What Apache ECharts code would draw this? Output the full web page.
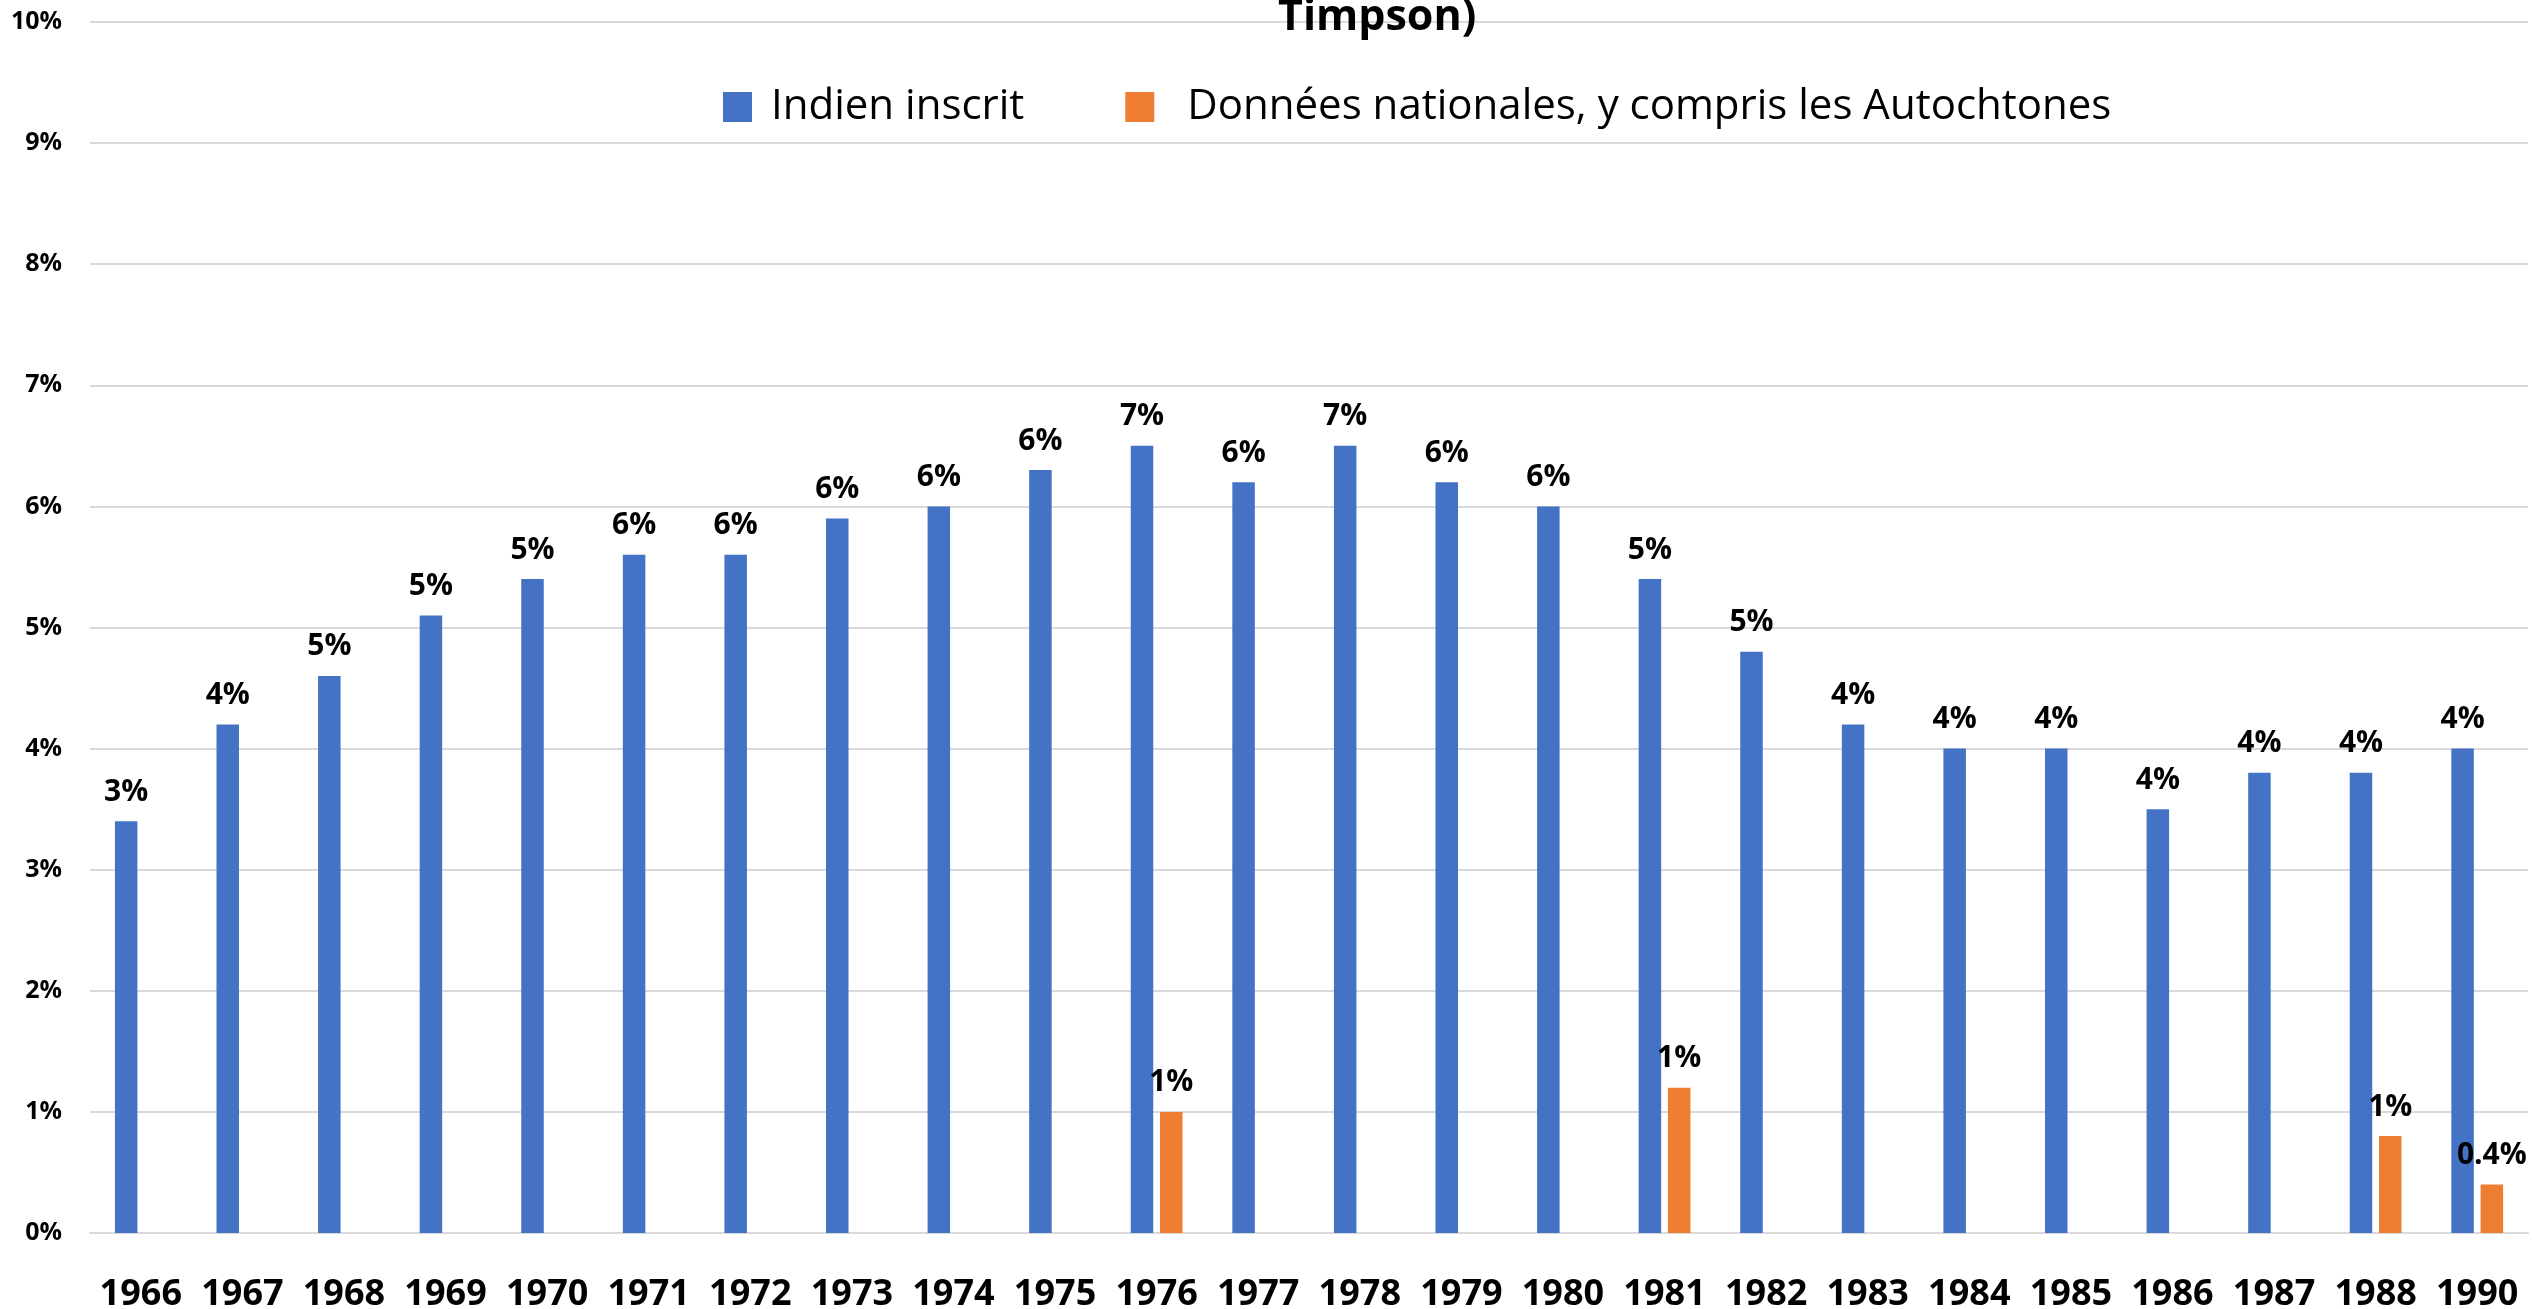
<!DOCTYPE html>
<html>
<head>
<meta charset="utf-8">
<script src="https://cdn.jsdelivr.net/npm/echarts@6/dist/echarts.min.js"></script>
<style>
html,body{margin:0;padding:0;background:#fff;}
#chart{width:2532px;height:1309px;}
</style>
</head>
<body>
<div id="chart"></div>
<script>
const years = ['1966','1967','1968','1969','1970','1971','1972','1973','1974','1975','1976','1977','1978','1979','1980','1981','1982','1983','1984','1985','1986','1987','1988','1990'];
const indienInscrit = [3.4,4.2,4.6,5.1,5.4,5.6,5.6,5.9,6.0,6.3,6.5,6.2,6.5,6.2,6.0,5.4,4.8,4.2,4.0,4.0,3.5,3.8,3.8,4.0];
const donneesNationales = [null,null,null,null,null,null,null,null,null,null,1.0,null,null,null,null,1.2,null,null,null,null,null,null,0.8,0.4];
const seriesNames = ['Indien inscrit','Données nationales, y compris les Autochtones'];
const titleText = 'Timpson)';

const FONT = 'Open Sans';
const fmtLabel = p => {
  const v = p.value;
  if (v === null || v === undefined) return '';
  return v >= 0.5 ? Math.round(v) + '%' : v.toFixed(1) + '%';
};
const labelStyle = {
  show: true, position: 'top', distance: 14,
  fontFamily: FONT, fontWeight: 'bold', fontSize: 30, color: '#000',
  formatter: fmtLabel
};

const chart = echarts.init(document.getElementById('chart'), null, {renderer: 'canvas'});
chart.setOption({
  animation: false,
  backgroundColor: '#fff',
  title: {
    text: titleText, left: 1278, top: -4, padding: 0,
    textStyle: {fontFamily: FONT, fontWeight: 'bold', fontSize: 43, color: '#000'}
  },
  legend: {
    left: 723, top: 86, padding: 0,
    itemWidth: 29, itemHeight: 30, itemGap: 101, icon: 'rect',
    textStyle: {fontFamily: FONT, fontSize: 42, color: '#000'},
    data: [
      {name: seriesNames[0], textStyle: {padding: [0, 0, 0, 14]}},
      {name: seriesNames[1], textStyle: {padding: [0, 0, 0, 28]}}
    ]
  },
  grid: {left: 90, right: 4, top: 22, bottom: 76, containLabel: false, outerBoundsMode: 'none'},
  xAxis: {
    type: 'category', data: years,
    axisTick: {show: false},
    axisLine: {lineStyle: {color: '#d9d9d9', width: 2}},
    axisLabel: {fontFamily: FONT, fontWeight: 'bold', fontSize: 36, color: '#000', margin: 44, interval: 0}
  },
  yAxis: {
    type: 'value', min: 0, max: 10, interval: 1,
    axisLine: {show: false}, axisTick: {show: false},
    splitLine: {lineStyle: {color: '#d9d9d9', width: 2}},
    axisLabel: {fontFamily: FONT, fontWeight: 'bold', fontSize: 25, color: '#000', margin: 28, formatter: '{value}%'}
  },
  series: [
    {name: seriesNames[0], type: 'bar', data: indienInscrit, barWidth: 22.5, barGap: '30%',
     itemStyle: {color: '#4472C4'}, label: labelStyle},
    {name: seriesNames[1], type: 'bar', data: donneesNationales, barWidth: 22.5, barGap: '30%',
     itemStyle: {color: '#ED7D31'}, label: labelStyle}
  ]
});
</script>
</body>
</html>
